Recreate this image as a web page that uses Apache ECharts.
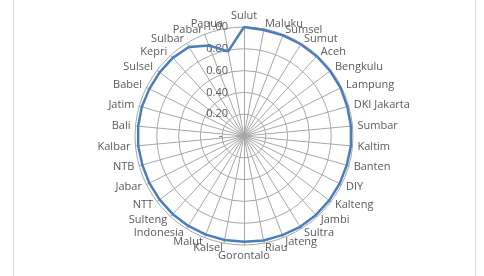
<!DOCTYPE html>
<html>
<head>
<meta charset="utf-8">
<script src="https://cdn.jsdelivr.net/npm/echarts@6/dist/echarts.min.js"></script>
<style>
  html, body { margin: 0; padding: 0; background: #fff; }
  #frame { position: absolute; left: 13px; top: -2px; width: 461px; height: 280px;
           border-left: 1px solid #d9d9d9; border-right: 1px solid #d9d9d9; }
  #chart { position: absolute; left: 0; top: 0; width: 484px; height: 276px; }
</style>
</head>
<body>
<div id="frame"></div>
<div id="chart"></div>
<script>
// provinsi, searah jarum jam mulai dari atas
var provinces = ['Sulut', 'Maluku', 'Sumsel', 'Sumut', 'Aceh', 'Bengkulu', 'Lampung',
  'DKI Jakarta', 'Sumbar', 'Kaltim', 'Banten', 'DIY', 'Kalteng', 'Jambi', 'Sultra',
  'Jateng', 'Riau', 'Gorontalo', 'Kalsel', 'Malut', 'Indonesia', 'Sulteng', 'NTT',
  'Jabar', 'NTB', 'Kalbar', 'Bali', 'Jatim', 'Babel', 'Sulsel', 'Kepri', 'Sulbar',
  'Pabar', 'Papua'];

var values = [1.00, 0.99, 0.99, 0.99, 0.99, 0.99, 0.99,
  0.985, 0.985, 0.985, 0.98, 0.98, 0.98, 0.98, 0.98,
  0.975, 0.975, 0.97, 0.97, 0.97, 0.97, 0.97, 0.97,
  0.97, 0.97, 0.975, 0.975, 0.975, 0.97, 0.97, 0.97, 0.96,
  0.89, 0.79];

var axisMin = 0, axisMax = 1, axisStep = 0.2;

// radar echarts berputar berlawanan jarum jam, jadi urutan dibalik (kecuali yang pertama)
function cw(arr) { return [arr[0]].concat(arr.slice(1).reverse()); }

var chart = echarts.init(document.getElementById('chart'));

var indicators = cw(provinces).map(function (p, i) {
  var ind = { name: p, min: axisMin, max: axisMax };
  if (i === 0) {
    // label sumbu hanya di sumbu atas
    ind.axisLabel = {
      show: true,
      showMinLabel: true,
      color: '#595959',
      fontSize: 11,
      fontFamily: 'Open Sans',
      margin: 16,
      formatter: function (v) { return v === 0 ? '-  ' : v.toFixed(2); }
    };
  }
  return ind;
});

chart.setOption({
  animation: false,
  radar: {
    center: [244, 136],
    radius: 109,
    startAngle: 90,
    shape: 'circle',
    splitNumber: Math.round((axisMax - axisMin) / axisStep),
    indicator: indicators,
    nameGap: 5,
    axisName: { color: '#595959', fontSize: 11, fontFamily: 'Open Sans' },
    axisLine: { lineStyle: { color: '#a6a6a6', width: 1 } },
    splitLine: { lineStyle: { color: '#a6a6a6', width: 1 } },
    splitArea: { show: false },
    axisLabel: { show: false }
  },
  series: [{
    type: 'radar',
    symbol: 'none',
    lineStyle: { color: '#4a7ebb', width: 2.5 },
    data: [{ value: cw(values) }]
  }]
});
</script>
</body>
</html>
